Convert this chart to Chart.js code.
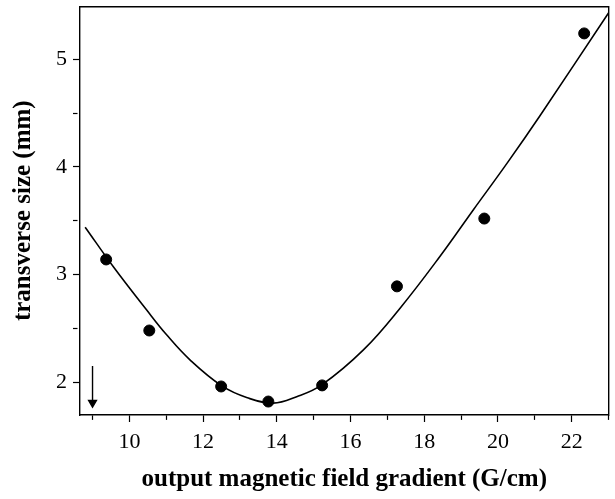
<!DOCTYPE html>
<html>
<head>
<meta charset="UTF-8">
<style>
  html, body { margin: 0; padding: 0; background: #fff; }
  #wrap { width: 615px; height: 499px; }
</style>
</head>
<body>
<div id="wrap"><canvas id="chart" width="615" height="499"></canvas></div>
<script src="https://cdn.jsdelivr.net/npm/chart.js@4.4.0/dist/chart.umd.min.js"></script>
<script>
// measured points
const measGradient = [9.37, 10.54, 12.49, 13.77, 15.23, 17.26, 19.63, 22.34]
const measSize = [3.14, 2.48, 1.96, 1.82, 1.97, 2.89, 3.52, 5.24]

// fitted curve
const fitGradient = [8.8, 9.57, 10.47, 11.01, 11.65, 12.51, 13.2, 13.9, 14.54, 15.22, 16.35, 17.35, 18.43, 19.33, 20.24, 21.15, 23.0]
const fitSize = [3.44, 3.07, 2.67, 2.44, 2.205, 1.965, 1.855, 1.805, 1.865, 1.975, 2.3, 2.69, 3.17, 3.60, 4.03, 4.48, 5.43]

// little arrow near the lower left corner
const arrowGradient = [9, 9]
const arrowSize = [2.15, 1.81]

const xTicks = [9, 10, 11, 12, 13, 14, 15, 16, 17, 18, 19, 20, 21, 22, 23]
const yTicks = [2, 2.5, 3, 3.5, 4, 4.5, 5]
const xRange = [8.66, 23.0]
const yRange = [1.695, 5.49]

const toXY = (xs, ys) => xs.map((x, i) => ({ x: x, y: ys[i] }))

const tickFont = { family: 'Liberation Serif', size: 22 }
const titleFont = { family: 'Liberation Serif', size: 25, weight: 'bold', lineHeight: 1 }

const ctx = document.getElementById('chart').getContext('2d')
const chart = new Chart(ctx, {
  type: 'scatter',
  data: {
    datasets: [
      {
        data: toXY(measGradient, measSize),
        backgroundColor: '#000',
        borderColor: '#000',
        pointRadius: 5.5,
        pointHoverRadius: 5.5
      },
      {
        data: toXY(fitGradient, fitSize),
        showLine: true,
        tension: 0.4,
        borderColor: '#000',
        borderWidth: 1.6,
        pointRadius: 0,
        pointHoverRadius: 0
      },
      {
        data: toXY(arrowGradient, arrowSize),
        showLine: true,
        borderColor: '#000',
        backgroundColor: '#000',
        borderWidth: 1.4,
        pointStyle: 'triangle',
        rotation: 180,
        pointRadius: [0, 4.5],
        pointHoverRadius: [0, 4.5]
      }
    ]
  },
  options: {
    responsive: false,
    animation: false,
    layout: { padding: { top: 5, right: 6, left: 0, bottom: 0 } },
    plugins: { legend: { display: false }, tooltip: { enabled: false } },
    scales: {
      x: {
        type: 'linear',
        position: 'bottom',
        min: xRange[0],
        max: xRange[1],
        afterBuildTicks: s => { s.ticks = xTicks.map(v => ({ value: v })) },
        afterFit: s => { s.height = 84; s.paddingLeft = 0; s.paddingRight = 0 },
        ticks: {
          autoSkip: false,
          maxRotation: 0,
          color: '#000',
          font: tickFont,
          padding: 7,
          callback: v => (v % 2 === 0 ? v : '')
        },
        grid: {
          drawOnChartArea: false,
          tickLength: 7,
          tickColor: '#000',
          tickWidth: 1.2,
          tickBorderDash: c => (c.tick && c.tick.value % 2 !== 0 ? [4.5, 50] : [])
        },
        border: { color: '#000', width: 1.4 },
        title: {
          display: true,
          text: 'output magnetic field gradient (G/cm)',
          color: '#000',
          font: titleFont,
          padding: { top: 0, bottom: 6.5 }
        }
      },
      y: {
        type: 'linear',
        position: 'left',
        min: yRange[0],
        max: yRange[1],
        afterBuildTicks: s => { s.ticks = yTicks.map(v => ({ value: v })) },
        afterFit: s => { s.width = 80; s.paddingTop = 0; s.paddingBottom = 0 },
        ticks: {
          autoSkip: false,
          color: '#000',
          font: tickFont,
          padding: 6,
          callback: v => (Number.isInteger(v) ? v : '')
        },
        grid: {
          drawOnChartArea: false,
          tickLength: 7,
          tickColor: '#000',
          tickWidth: 1.2,
          tickBorderDash: c => (c.tick && !Number.isInteger(c.tick.value) ? [4.5, 50] : [])
        },
        border: { color: '#000', width: 1.4 },
        title: {
          display: true,
          text: 'transverse size (mm)',
          color: '#000',
          font: titleFont,
          padding: { top: 11.5, bottom: 0 }
        }
      },
      xTop: {
        type: 'linear',
        position: 'top',
        min: xRange[0],
        max: xRange[1],
        afterFit: s => { s.height = 0; s.paddingLeft = 0; s.paddingRight = 0 },
        ticks: { display: false },
        grid: { display: false, drawTicks: false },
        border: { color: '#000', width: 1.4 }
      },
      yRight: {
        type: 'linear',
        position: 'right',
        min: yRange[0],
        max: yRange[1],
        afterFit: s => { s.width = 0; s.paddingTop = 0; s.paddingBottom = 0 },
        ticks: { display: false },
        grid: { display: false, drawTicks: false },
        border: { color: '#000', width: 1.4 }
      }
    }
  }
})
</script>
</body>
</html>
